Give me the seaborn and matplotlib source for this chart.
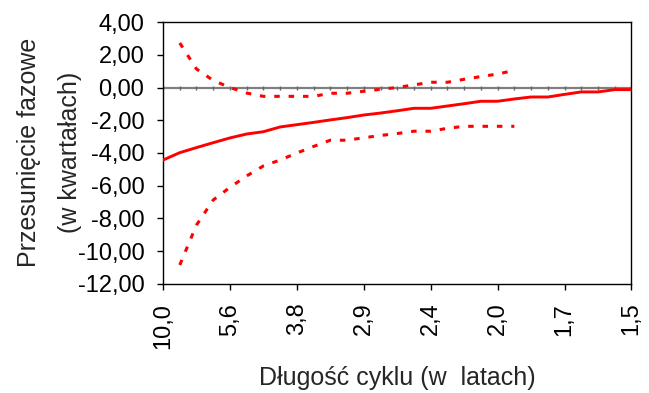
import numpy as np
import pandas as pd
import matplotlib
matplotlib.use("Agg")
import matplotlib.pyplot as plt
import seaborn as sns

# Cycle length (years) for each frequency point
cycle_labels = ["10,0", "8,3", "7,1", "6,3", "5,6", "5,0", "4,5", "4,2", "3,8", "3,6",
                "3,3", "3,1", "2,9", "2,8", "2,6", "2,5", "2,4", "2,3", "2,2", "2,1",
                "2,0", "1,9", "1,9", "1,8", "1,7", "1,7", "1,6", "1,6", "1,5"]

phase_shift = [-4.43, -3.98, -3.67, -3.37, -3.08, -2.84, -2.70, -2.41, -2.27, -2.13,
               -1.98, -1.84, -1.68, -1.56, -1.42, -1.27, -1.27, -1.13, -0.99, -0.84,
               -0.84, -0.70, -0.58, -0.58, -0.42, -0.27, -0.27, -0.13, -0.13]

upper_band = [np.nan, 2.72, 1.13, 0.43, 0.00, -0.34, -0.54, -0.54, -0.54, -0.54,
              -0.35, -0.35, -0.23, -0.11, 0.00, 0.16, 0.32, 0.32, 0.50, 0.67,
              0.82, 1.05, np.nan, np.nan, np.nan, np.nan, np.nan, np.nan, np.nan]

lower_band = [np.nan, -10.84, -8.40, -6.87, -6.10, -5.40, -4.79, -4.43, -4.00, -3.60,
              -3.22, -3.22, -3.07, -2.93, -2.81, -2.67, -2.67, -2.49, -2.37, -2.37,
              -2.37, -2.37, np.nan, np.nan, np.nan, np.nan, np.nan, np.nan, np.nan]

shown_every = 4

sns.set_style("white")
plt.rcParams["font.family"] = ["Liberation Sans", "DejaVu Sans"]

idx = np.arange(len(cycle_labels))
df = pd.DataFrame({"i": idx, "phase": phase_shift,
                   "upper": upper_band, "lower": lower_band})

fig = plt.figure(figsize=(6.49, 3.93), dpi=100)
ax = fig.add_axes([0.2512, 0.2774, 0.9730 - 0.2512, 0.944 - 0.2774])

TICK_FS = 17
LABEL_FS = 18

# zero line with small category ticks
ax.axhline(0, color="#808080", lw=1.6, zorder=1)
ax.plot(idx, np.zeros(len(idx)), ls="none", marker="|", ms=2.6, mew=1.0,
        color="#666666", zorder=1)

dot = (0, (1.8, 2.9))
sns.lineplot(data=df, x="i", y="upper", ax=ax, color="#ff0000", lw=2.2,
             linestyle=dot, dash_capstyle="butt", zorder=3)
sns.lineplot(data=df, x="i", y="lower", ax=ax, color="#ff0000", lw=2.2,
             linestyle=dot, dash_capstyle="butt", zorder=3)
sns.lineplot(data=df, x="i", y="phase", ax=ax, color="#ff0000", lw=2.1, zorder=4)

ax.set_xlim(0, len(idx) - 1)
ax.set_ylim(-12, 4)
ax.set_yticks(np.arange(-12, 4.01, 2))
ax.set_yticklabels([f"{v:.2f}".replace(".", ",") for v in np.arange(-12, 4.01, 2)])
ax.set_xticks(idx[::shown_every])
ax.set_xticklabels(cycle_labels[::shown_every], rotation=90)

for s in ax.spines.values():
    s.set_visible(True)
    s.set_color("black")
    s.set_linewidth(1.0)

ax.tick_params(axis="both", direction="out", length=4.5, width=1.0, color="black",
               labelsize=TICK_FS, labelcolor="black", left=True, bottom=True)
ax.tick_params(axis="y", pad=9)
ax.tick_params(axis="x", pad=9)

ax.set_xlabel("Długość cyklu (w  latach)", fontsize=LABEL_FS)
ax.xaxis.set_label_coords(0.5, -0.312)
ax.set_ylabel("Przesunięcie fazowe\n(w kwartałach)", fontsize=LABEL_FS,
              linespacing=1.9)
ax.yaxis.set_label_coords(-0.173, 0.504)
ax.grid(False)

fig.savefig("out.png", dpi=100)
